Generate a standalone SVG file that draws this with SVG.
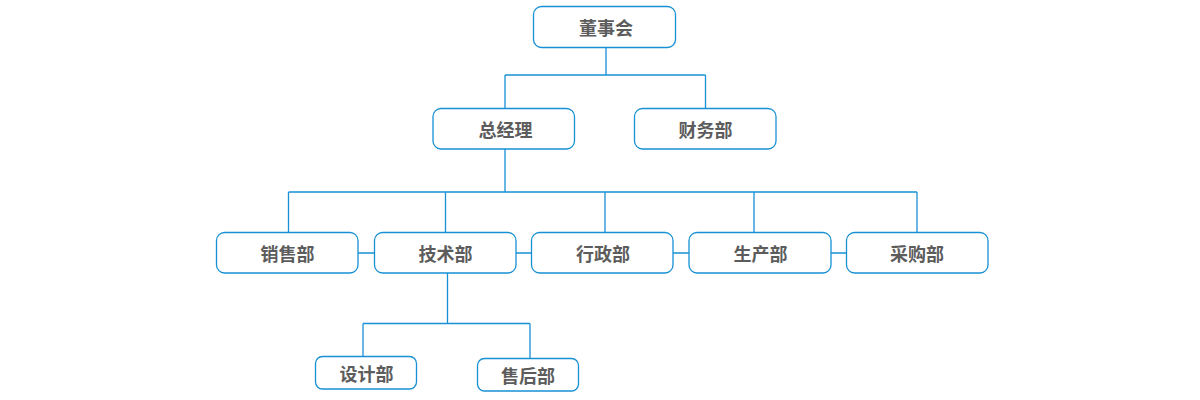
<svg xmlns="http://www.w3.org/2000/svg" width="1200" height="400" viewBox="0 0 1200 400">
<style>
.box{fill:#fff;stroke:#1790d4;stroke-width:1.3}
.lbl{font-family:"Noto Sans CJK SC","Noto Sans",sans-serif;font-size:18px;font-weight:bold;fill:#5c5c5c;text-anchor:middle;dominant-baseline:central}
.ln{fill:none;stroke:#1790d4;stroke-width:1.3}
</style>
<rect width="1200" height="400" fill="#fff"/>
<g id="connectors" class="ln">
<path d="M606 47.5V75M505 75H705.5M505 75V108.5M705.5 75V108.5"/>
<path d="M505 149V192M288.5 192H917M288.5 192V232.5M445.5 192V232.5M605 192V232.5M754 192V232.5M917 192V232.5"/>
<path d="M358 253H374.5M516 253H531.5M673 253H689M831 253H846.5"/>
<path d="M447.5 273V323.5M363 323.5H530M363 323.5V356.5M530 323.5V358.5"/>
</g>
<g id="n-dongshihui"><rect class="box" x="533.5" y="6.5" width="142" height="41" rx="8"/><text class="lbl" x="606" y="27">董事会</text></g>
<g id="n-zongjingli"><rect class="box" x="433" y="108.5" width="141.5" height="40.5" rx="8"/><text class="lbl" x="505.5" y="129">总经理</text></g>
<g id="n-caiwubu"><rect class="box" x="634.5" y="108.5" width="141.5" height="40.5" rx="8"/><text class="lbl" x="705.5" y="129">财务部</text></g>
<g id="n-xiaoshoubu"><rect class="box" x="216.5" y="232.5" width="141.5" height="40.5" rx="8"/><text class="lbl" x="287.5" y="253">销售部</text></g>
<g id="n-jishubu"><rect class="box" x="374.5" y="232.5" width="141.5" height="40.5" rx="8"/><text class="lbl" x="445.5" y="253">技术部</text></g>
<g id="n-xingzhengbu"><rect class="box" x="531.5" y="232.5" width="141.5" height="40.5" rx="8"/><text class="lbl" x="603" y="253">行政部</text></g>
<g id="n-shengchanbu"><rect class="box" x="689" y="232.5" width="142" height="40.5" rx="8"/><text class="lbl" x="760.5" y="253">生产部</text></g>
<g id="n-caigoubu"><rect class="box" x="846.5" y="232.5" width="141.5" height="40.5" rx="8"/><text class="lbl" x="917" y="253">采购部</text></g>
<g id="n-shejibu"><rect class="box" x="315.5" y="356.5" width="101" height="32.5" rx="7"/><text class="lbl" x="366.5" y="373">设计部</text></g>
<g id="n-shouhoubu"><rect class="box" x="477.5" y="358.5" width="101" height="32.5" rx="7"/><text class="lbl" x="528" y="375">售后部</text></g>
</svg>
